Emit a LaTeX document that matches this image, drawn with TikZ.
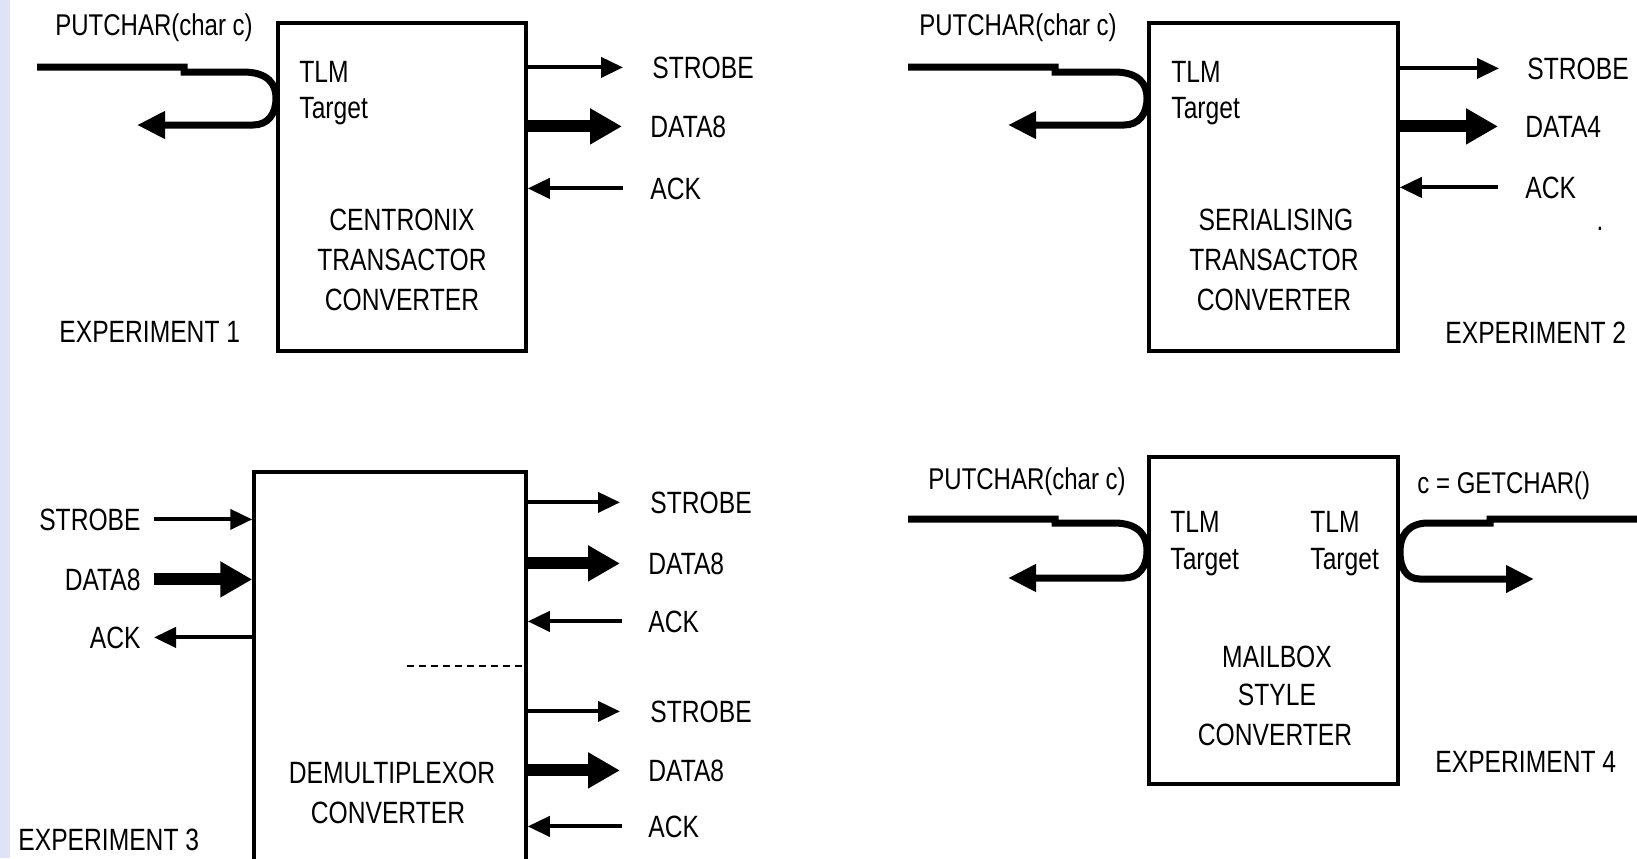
\documentclass[tikz,border=0pt]{standalone}
\usepackage{fontspec}
\setmainfont{Liberation Sans}[FakeStretch=0.8]
\usetikzlibrary{arrows.meta,calc}
\definecolor{edgeband}{RGB}{222,227,245}
\newcommand\lblfont{\fontsize{15.4}{18}\selectfont}
\newcommand\callfont{\fontsize{15}{17}\selectfont}
\tikzset{
  unitbox/.style={draw, line width=1.75pt, inner sep=0pt},
  sig/.style={line width=2pt, -{Triangle[length=11pt,width=10pt]}},
  bus/.style={line width=6pt, -{Triangle[length=16pt,width=17pt]}},
  tlm/.style={line width=3.5pt, -{Triangle[length=14pt,width=13pt]}},
  lab/.style={inner sep=0pt, font=\lblfont},
  call/.style={inner sep=0pt, font=\callfont},
  sep/.style={line width=1.2pt, dash pattern=on 3.5pt off 2.5pt},
}
\begin{document}
\begin{tikzpicture}[x=0.5pt, y=-0.5pt]
\clip (0,0) rectangle (1637,858);
\fill[white] (0,0) rectangle (1637,858);
\fill[edgeband] (0,0) rectangle (10,858);

% ---------------- Experiment 1 ----------------
\node[unitbox, minimum width=124pt, minimum height=164pt] (b1) at (402,187) {};
\node[call, anchor=base west] (put1) at (55,35) {PUTCHAR(char c)};
\node[lab, anchor=base west] (tlm1) at (299,82) {TLM};
\node[lab, anchor=base west] (tgt1) at (299,118) {Target};
\node[lab, anchor=base] (n1a) at (402,230) {CENTRONIX};
\node[lab, anchor=base] (n1b) at (402,270) {TRANSACTOR};
\node[lab, anchor=base] (n1c) at (402,310) {CONVERTER};
\node[lab, anchor=base west] (e1) at (59,342) {EXPERIMENT 1};
\node[lab, anchor=base west] (s1) at (652,78) {STROBE};
\node[lab, anchor=base west] (d1) at (650,137) {DATA8};
\node[lab, anchor=base west] (a1) at (650,199) {ACK};
\draw[sig, shorten >=14.5pt] (b1.east |- s1.west) -- (s1.west);
\draw[bus, shorten >=14pt] (b1.east |- d1.west) -- (d1.west);
\draw[sig, shorten <=13.5pt] (a1.west) -- (b1.east |- a1.west);
\coordinate (in1) at (37,67);
\coordinate (ret1) at (137,125);
\draw[tlm] (in1) -- (184,67) -- (184,72) -- (243,72)
  .. controls (268,72) and (276,84) .. (276,98)
  .. controls (276,114) and (268,125) .. (253,125) -- (ret1);

% ---------------- Experiment 2 ----------------
\node[unitbox, minimum width=124.5pt, minimum height=164pt] (b2) at (1273.5,187) {};
\node[call, anchor=base west] (put2) at (919,35) {PUTCHAR(char c)};
\node[lab, anchor=base west] (tlm2) at (1171,82) {TLM};
\node[lab, anchor=base west] (tgt2) at (1171,118) {Target};
\node[lab, anchor=base] (n2a) at (1276,230) {SERIALISING};
\node[lab, anchor=base] (n2b) at (1274,270) {TRANSACTOR};
\node[lab, anchor=base] (n2c) at (1274,310) {CONVERTER};
\node[lab, anchor=base west] (e2) at (1445,343) {EXPERIMENT 2};
\node[lab, anchor=base west] (s2) at (1527,79) {STROBE};
\node[lab, anchor=base west] (d2) at (1525,137) {DATA4};
\node[lab, anchor=base west] (a2) at (1525,198) {ACK};
\node[lab, anchor=base] (dot2) at (1600,230) {.};
\draw[sig, shorten >=14pt] (b2.east |- s2.west) -- (s2.west);
\draw[bus, shorten >=13.5pt] (b2.east |- d2.west) -- (d2.west);
\draw[sig, shorten <=13.5pt] (a2.west) -- (b2.east |- a2.west);
\coordinate (in2) at (908,67);
\coordinate (ret2) at (1008,125);
\draw[tlm] (in2) -- (1055,67) -- (1055,72) -- (1114,72)
  .. controls (1139,72) and (1147,84) .. (1147,98)
  .. controls (1147,114) and (1139,125) .. (1124,125) -- (ret2);

% ---------------- Experiment 3 ----------------
\node[unitbox, minimum width=136pt, minimum height=214pt] (b3) at (390,686) {};
\node[lab, anchor=base east] (ls3) at (141,530) {STROBE};
\node[lab, anchor=base east] (ld3) at (141,590) {DATA8};
\node[lab, anchor=base east] (la3) at (141,648) {ACK};
\draw[sig, shorten <=6.5pt] (ls3.east) -- (b3.west |- ls3.east);
\draw[bus, shorten <=6.5pt] (ld3.east) -- (b3.west |- ld3.east);
\draw[sig, shorten >=6.5pt] (b3.west |- la3.east) -- (la3.east);
\node[lab, anchor=base west] (s3) at (650,513) {STROBE};
\node[lab, anchor=base west] (d3) at (648,574) {DATA8};
\node[lab, anchor=base west] (a3) at (648,632) {ACK};
\node[lab, anchor=base west] (s4) at (650,722) {STROBE};
\node[lab, anchor=base west] (d4) at (648,781) {DATA8};
\node[lab, anchor=base west] (a4) at (648,837) {ACK};
\draw[sig, shorten >=15pt] (b3.east |- s3.west) -- (s3.west);
\draw[bus, shorten >=14pt] (b3.east |- d3.west) -- (d3.west);
\draw[sig, shorten <=13pt] (a3.west) -- (b3.east |- a3.west);
\draw[sig, shorten >=15pt] (b3.east |- s4.west) -- (s4.west);
\draw[bus, shorten >=14pt] (b3.east |- d4.west) -- (d4.west);
\draw[sig, shorten <=13pt] (a4.west) -- (b3.east |- a4.west);
\coordinate (split) at (407,666);
\draw[sep] (split) -- (b3.east |- split);
\node[lab, anchor=base] (n3a) at (392,783) {DEMULTIPLEXOR};
\node[lab, anchor=base] (n3b) at (388,823) {CONVERTER};
\node[lab, anchor=base west] (e3) at (18,850) {EXPERIMENT 3};

% ---------------- Experiment 4 ----------------
\node[unitbox, minimum width=124.5pt, minimum height=163.5pt] (b4) at (1273.5,620.5) {};
\node[call, anchor=base west] (put4) at (928,489) {PUTCHAR(char c)};
\node[call, anchor=base west] (get4) at (1417,493) {c = GETCHAR()};
\node[lab, anchor=base west] (tlm4a) at (1170,532) {TLM};
\node[lab, anchor=base west] (tgt4a) at (1170,569) {Target};
\node[lab, anchor=base west] (tlm4b) at (1310,532) {TLM};
\node[lab, anchor=base west] (tgt4b) at (1310,569) {Target};
\node[lab, anchor=base] (n4a) at (1277,667) {MAILBOX};
\node[lab, anchor=base] (n4b) at (1277,705) {STYLE};
\node[lab, anchor=base] (n4c) at (1275,745) {CONVERTER};
\node[lab, anchor=base west] (e4) at (1435,772) {EXPERIMENT 4};
\coordinate (in4) at (908,519);
\coordinate (ret4) at (1008,578);
\draw[tlm] (in4) -- (1055,519) -- (1055,523) -- (1114,523)
  .. controls (1139,523) and (1147,536) .. (1147,550)
  .. controls (1147,567) and (1139,578) .. (1124,578) -- (ret4);
\coordinate (in5) at (1640,519);
\coordinate (ret5) at (1534,579);
\draw[tlm] (in5) -- (1490,519) -- (1490,523) -- (1428,523)
  .. controls (1407,523) and (1400,537) .. (1400,551)
  .. controls (1400,568) and (1406,579) .. (1420,579) -- (ret5);
\end{tikzpicture}
\end{document}
